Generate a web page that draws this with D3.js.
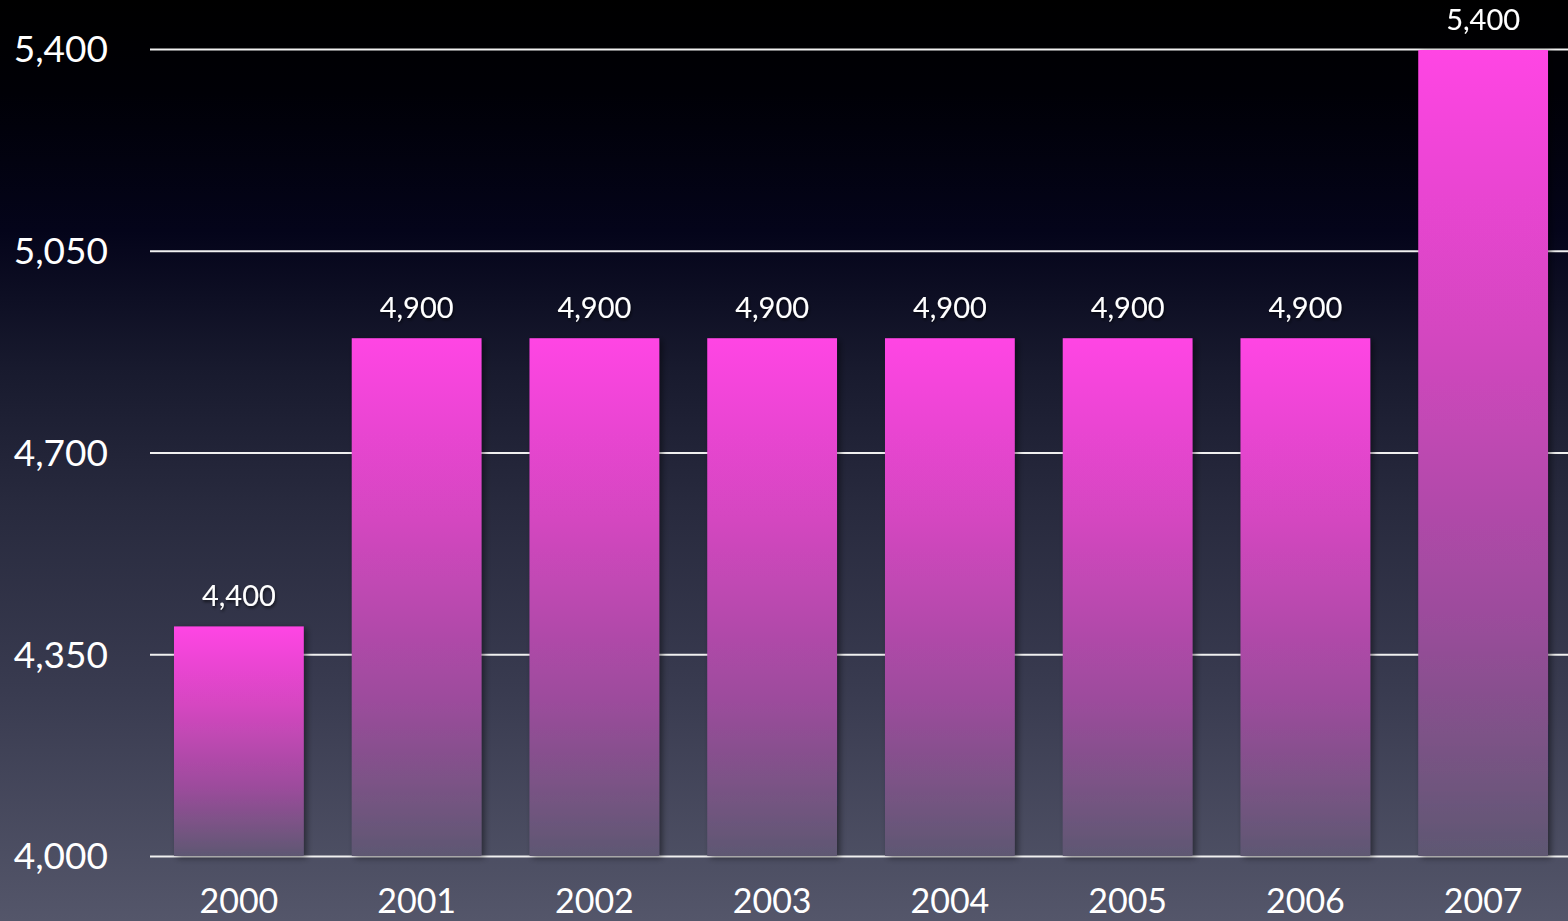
<!DOCTYPE html>
<html><head><meta charset="utf-8">
<script src="https://cdn.jsdelivr.net/npm/d3@7"></script>
<style>html,body{margin:0;padding:0;background:#000;overflow:hidden}</style>
</head><body>
<svg id="c" width="1568" height="921"></svg>
<script>
const years = ["2000","2001","2002","2003","2004","2005","2006","2007"];
const values = [4400,4900,4900,4900,4900,4900,4900,5400];
const yTicks = [4000,4350,4700,5050,5400];

const W=1568,H=921;
const svg=d3.select("#c");
const defs=svg.append("defs");
const bg=defs.append("linearGradient").attr("id","bg").attr("x1",0).attr("y1",0).attr("x2",0).attr("y2",1);
[[0,"#000000"],[0.1,"#000006"],[0.25,"#04041a"],[0.4,"#181a2e"],[0.55,"#282a3e"],[0.75,"#393b50"],[1,"#54566a"]]
 .forEach(s=>bg.append("stop").attr("offset",s[0]).attr("stop-color",s[1]));
const bar=defs.append("linearGradient").attr("id","bar").attr("x1",0).attr("y1",0).attr("x2",0).attr("y2",1);
[[0,"#ff44e4"],[0.35,"#d446c0"],[0.7,"#9c4c9c"],[1,"#5e5872"]]
 .forEach(s=>bar.append("stop").attr("offset",s[0]).attr("stop-color",s[1]));
const sh=defs.append("filter").attr("id","sh").attr("x","-20%").attr("y","-20%").attr("width","140%").attr("height","140%");
sh.append("feDropShadow").attr("dx",3).attr("dy",2).attr("stdDeviation",3).attr("flood-color","#000").attr("flood-opacity",0.45);
const tsh=defs.append("filter").attr("id","tsh").attr("x","-20%").attr("y","-40%").attr("width","140%").attr("height","180%");
tsh.append("feDropShadow").attr("dx",1).attr("dy",2).attr("stdDeviation",1.5).attr("flood-color","#000").attr("flood-opacity",0.6);

svg.append("rect").attr("width",W).attr("height",H).attr("fill","url(#bg)");

const y=d3.scaleLinear().domain([4000,5400]).range([856,49]);
const x=d3.scaleBand().domain(years).range([150,1572]).paddingInner(0.27).paddingOuter(0.135);

const font="Lato, 'Open Sans', sans-serif";

// gridlines
const yAxis=d3.axisLeft(y).tickValues(yTicks).tickSize(0).tickFormat(d3.format(","));
const yg=svg.append("g").attr("transform","translate(150,0)").call(yAxis);
yg.select(".domain").remove();
yg.selectAll(".tick line").attr("x2",W-150).attr("stroke","#f0f0f0").attr("stroke-width",2);
yg.selectAll(".tick text").attr("x",-42).attr("dy","0.35em").attr("fill","#fff")
  .style("font-family",font).style("font-size","37px").attr("text-anchor","end");

// bars
svg.append("g").selectAll("rect").data(values).join("rect")
 .attr("x",(d,i)=>x(years[i])).attr("width",x.bandwidth())
 .attr("y",d=>y(d)+1).attr("height",d=>y(4000)-y(d)-1)
 .attr("fill","url(#bar)").attr("filter","url(#sh)");

// value labels
svg.append("g").selectAll("text").data(values).join("text")
 .attr("x",(d,i)=>x(years[i])+x.bandwidth()/2).attr("y",d=>y(d)-19)
 .attr("text-anchor","middle").attr("fill","#fff").attr("filter","url(#tsh)")
 .style("font-family",font).style("font-size","29px").text(d3.format(","));

// x axis labels
const xAxis=d3.axisBottom(x).tickSize(0);
const xg=svg.append("g").attr("transform","translate(0,856)").call(xAxis);
xg.select(".domain").remove();
xg.selectAll(".tick text").attr("y",45).attr("dy","0.35em").attr("fill","#fff")
  .style("font-family",font).style("font-size","34px");
</script>
</body></html>
